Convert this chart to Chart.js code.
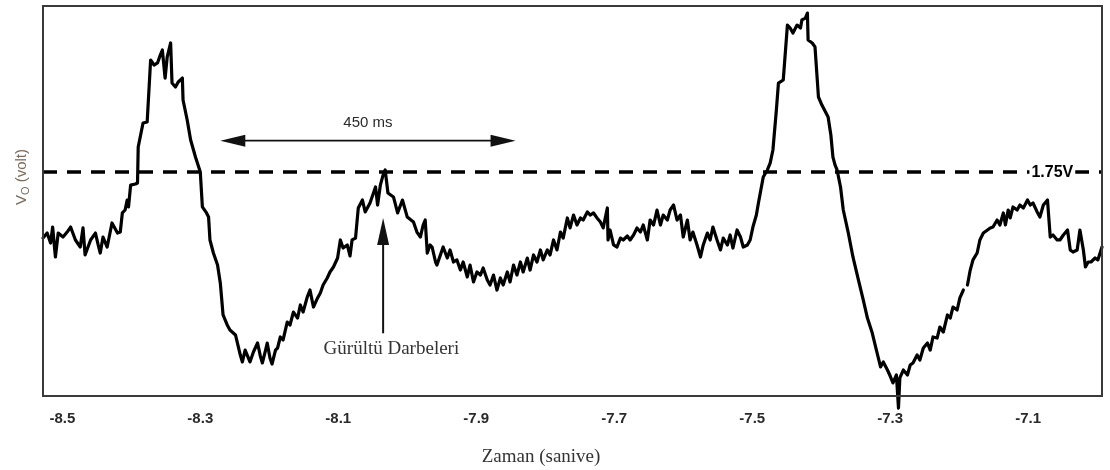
<!DOCTYPE html>
<html><head><meta charset="utf-8">
<script src="https://cdn.jsdelivr.net/npm/chart.js@4.4.1/dist/chart.umd.min.js"></script>
<style>html,body{margin:0;padding:0;background:#fff;} #wrap{width:1110px;height:470px;}</style>
</head><body><div id="wrap"><canvas id="c" width="1110" height="470"></canvas></div>
<script>
// ---- data (time in seconds, output voltage in volts) ----
const times = [
-8.528,-8.522,-8.517,-8.514,-8.510,-8.506,-8.499,-8.493,-8.488,-8.481,
-8.474,-8.470,-8.467,-8.459,-8.452,-8.448,-8.445,-8.441,-8.435,-8.428,
-8.420,-8.416,-8.413,-8.409,-8.406,-8.404,-8.401,-8.394,-8.391,-8.390,
-8.383,-8.377,-8.372,-8.367,-8.362,-8.358,-8.355,-8.351,-8.348,-8.343,
-8.341,-8.336,-8.332,-8.326,-8.325,-8.319,-8.314,-8.307,-8.300,-8.297,
-8.291,-8.288,-8.286,-8.281,-8.275,-8.271,-8.267,-8.261,-8.257,-8.249,
-8.242,-8.239,-8.235,-8.232,-8.228,-8.223,-8.217,-8.213,-8.210,-8.206,
-8.203,-8.199,-8.196,-8.191,-8.188,-8.184,-8.180,-8.174,-8.170,-8.165,
-8.159,-8.155,-8.151,-8.145,-8.141,-8.136,-8.130,-8.126,-8.122,-8.116,
-8.112,-8.107,-8.101,-8.097,-8.093,-8.087,-8.083,-8.080,-8.075,-8.071,
-8.065,-8.061,-8.054,-8.046,-8.043,-8.039,-8.035,-8.032,-8.028,-8.020,
-8.014,-8.007,-8.000,-7.991,-7.986,-7.981,-7.977,-7.974,-7.971,-7.967,
-7.964,-7.959,-7.957,-7.952,-7.948,-7.942,-7.938,-7.933,-7.928,-7.923,
-7.919,-7.913,-7.909,-7.904,-7.899,-7.894,-7.890,-7.884,-7.880,-7.875,
-7.870,-7.865,-7.861,-7.855,-7.851,-7.846,-7.841,-7.836,-7.832,-7.826,
-7.822,-7.817,-7.812,-7.807,-7.803,-7.797,-7.793,-7.788,-7.783,-7.778,
-7.774,-7.768,-7.764,-7.759,-7.754,-7.749,-7.745,-7.739,-7.735,-7.730,
-7.725,-7.720,-7.716,-7.710,-7.709,-7.706,-7.701,-7.696,-7.691,-7.687,
-7.681,-7.677,-7.672,-7.667,-7.662,-7.658,-7.652,-7.648,-7.643,-7.638,
-7.633,-7.629,-7.623,-7.619,-7.614,-7.609,-7.604,-7.600,-7.594,-7.590,
-7.586,-7.580,-7.575,-7.571,-7.565,-7.561,-7.557,-7.551,-7.546,-7.542,
-7.536,-7.532,-7.528,-7.522,-7.517,-7.513,-7.507,-7.503,-7.499,-7.494,
-7.491,-7.484,-7.478,-7.474,-7.470,-7.465,-7.462,-7.455,-7.449,-7.445,
-7.441,-7.435,-7.430,-7.428,-7.423,-7.420,-7.419,-7.413,-7.409,
-7.404,-7.399,-7.390,-7.386,-7.383,-7.380,-7.377,-7.372,-7.368,-7.361,
-7.354,-7.346,-7.339,-7.333,-7.326,-7.320,-7.314,-7.310,-7.304,-7.300,
-7.296,-7.291,-7.288,-7.286,-7.281,-7.275,-7.271,-7.267,-7.261,-7.257,
-7.252,-7.246,-7.242,-7.238,-7.232,-7.228,-7.223,-7.217,-7.213,-7.209,
-7.203,-7.199,-7.194,-7.191,-7.188,-7.184,-7.180,-7.174,-7.170,-7.165,
-7.159,-7.155,-7.151,-7.145,-7.141,-7.136,-7.133,-7.129,-7.126,-7.122,
-7.116,-7.112,-7.107,-7.101,-7.097,-7.093,-7.087,-7.083,-7.078,-7.072,
-7.068,-7.064,-7.058,-7.054,-7.049,-7.043,-7.039,-7.035,-7.029,-7.025,
-7.020,-7.017,-7.013,-7.009,-7.003,-6.999,-6.993
];
const volts = [
1.234,1.273,1.195,1.320,1.086,1.273,1.242,1.281,1.320,1.219,
1.164,1.313,1.102,1.219,1.273,1.180,1.117,1.242,1.164,1.352,
1.273,1.281,1.430,1.453,1.531,1.477,1.648,1.656,1.664,1.945,
2.133,2.141,2.625,2.586,2.602,2.664,2.703,2.484,2.648,2.758,
2.445,2.414,2.453,2.484,2.313,2.156,2.000,1.867,1.750,1.477,
1.430,1.398,1.219,1.117,1.023,0.883,0.633,0.555,0.516,0.477,
0.320,0.266,0.359,0.320,0.266,0.344,0.414,0.313,0.258,0.344,
0.414,0.297,0.250,0.359,0.375,0.461,0.438,0.578,0.555,0.656,
0.609,0.711,0.656,0.773,0.828,0.695,0.766,0.805,0.867,0.922,
0.969,1.008,1.078,1.219,1.156,1.180,1.094,1.219,1.234,1.469,
1.531,1.438,1.508,1.633,1.492,1.648,1.727,1.766,1.586,1.555,
1.430,1.531,1.398,1.359,1.281,1.242,1.336,1.375,1.117,1.180,
1.164,1.047,1.023,1.102,1.164,1.078,1.141,1.047,1.063,0.984,
1.047,0.930,1.023,0.891,0.969,0.945,1.000,0.906,0.867,0.945,
0.828,0.922,0.867,0.969,0.891,1.023,0.945,1.047,0.969,1.078,
0.984,1.102,1.047,1.141,1.063,1.141,1.102,1.219,1.141,1.281,
1.234,1.391,1.313,1.414,1.336,1.391,1.375,1.438,1.414,1.430,
1.391,1.359,1.313,1.469,1.219,1.297,1.180,1.164,1.234,1.219,
1.250,1.219,1.258,1.313,1.281,1.336,1.219,1.375,1.336,1.453,
1.336,1.414,1.375,1.453,1.492,1.375,1.414,1.242,1.375,1.219,
1.281,1.180,1.086,1.180,1.273,1.219,1.320,1.219,1.141,1.234,
1.180,1.258,1.156,1.297,1.242,1.164,1.180,1.219,1.320,1.414,
1.508,1.711,1.766,1.820,1.922,2.234,2.445,2.469,2.898,2.875,
2.836,2.898,2.875,2.938,2.953,2.992,2.781,2.758,2.727,
2.336,2.273,2.180,2.039,1.867,1.805,1.766,1.633,1.453,1.281,
1.086,0.906,0.750,0.609,0.492,0.359,0.227,0.266,0.203,0.156,
0.102,0.164,-0.094,0.141,0.203,0.164,0.242,0.258,0.320,0.281,
0.375,0.414,0.359,0.461,0.453,0.539,0.500,0.633,0.609,0.695,
0.672,0.766,0.828,null,0.867,0.984,1.063,1.117,1.219,1.273,
1.297,1.313,1.320,1.375,1.336,1.430,1.336,1.453,1.391,1.477,
1.453,1.492,1.469,1.531,1.492,1.508,1.438,1.398,1.492,1.531,
1.242,1.258,1.219,1.219,1.258,1.297,1.141,1.125,1.141,1.297,
1.141,1.008,1.047,1.047,1.078,1.063,1.164
];
const xTickValues = [-8.5, -8.3, -8.1, -7.9, -7.7, -7.5, -7.3, -7.1];
const xRange = [-8.528, -6.993];
const yRange = [0, 3.047];
const thresholdVolts = 1.75;
const thresholdLabel = '1.75V';
const thresholdLabelTime = -7.065;
const spanArrow = { from: -8.271, to: -7.843, volts: 1.995, label: '450 ms', labelTime: -8.057, labelVolts: 2.133 };
const noiseArrow = { time: -8.035, tipVolts: 1.39, tailVolts: 0.49, label: 'Gürültü Darbeleri', labelTime: -8.023, labelVolts: 0.367 };
const xTitle = 'Zaman (sanive)';
const yTitleMain = 'V', yTitleSub = 'O', yTitleRest = ' (volt)';

const points = times.map((t, i) => ({ x: t, y: volts[i] }));

function arrowHead(ctx, tipX, tipY, dirX, dirY, len, half) {
  const bx = tipX - dirX * len, by = tipY - dirY * len;
  const px = -dirY, py = dirX;
  ctx.beginPath();
  ctx.moveTo(tipX, tipY);
  ctx.lineTo(bx + px * half, by + py * half);
  ctx.lineTo(bx - px * half, by - py * half);
  ctx.closePath();
  ctx.fill();
}

const decor = {
  id: 'decor',
  beforeDatasetsDraw(chart) {
    const { ctx, chartArea: a, scales: { x, y } } = chart;
    const yy = y.getPixelForValue(thresholdVolts);
    ctx.save();
    ctx.strokeStyle = '#000';
    ctx.lineWidth = 3.5;
    ctx.setLineDash([14, 10]);
    ctx.beginPath();
    ctx.moveTo(a.left, yy);
    ctx.lineTo(a.right, yy);
    ctx.stroke();
    ctx.restore();
  },
  afterDatasetsDraw(chart) {
    const { ctx, chartArea: a, scales: { x, y } } = chart;
    ctx.save();
    // frame
    ctx.strokeStyle = '#3a3a3a';
    ctx.lineWidth = 2;
    ctx.strokeRect(a.left, a.top, a.right - a.left, a.bottom - a.top);

    // threshold label
    const ly = y.getPixelForValue(thresholdVolts);
    const lx = x.getPixelForValue(thresholdLabelTime);
    ctx.font = 'bold 16px "Liberation Sans", Arial, sans-serif';
    const w = ctx.measureText(thresholdLabel).width;
    ctx.fillStyle = '#fff';
    ctx.fillRect(lx - w / 2 - 2, ly - 9, w + 4, 18);
    ctx.fillStyle = '#000';
    ctx.textAlign = 'center';
    ctx.textBaseline = 'middle';
    ctx.fillText(thresholdLabel, lx, ly + 1);

    // 450 ms double arrow
    const ax1 = x.getPixelForValue(spanArrow.from), ax2 = x.getPixelForValue(spanArrow.to);
    const ay = y.getPixelForValue(spanArrow.volts);
    ctx.strokeStyle = '#111';
    ctx.fillStyle = '#111';
    ctx.lineWidth = 1.6;
    ctx.beginPath();
    ctx.moveTo(ax1 + 20, ay);
    ctx.lineTo(ax2 - 20, ay);
    ctx.stroke();
    arrowHead(ctx, ax1, ay, -1, 0, 25, 6);
    arrowHead(ctx, ax2, ay, 1, 0, 25, 6);
    ctx.font = '15px "Liberation Sans", Arial, sans-serif';
    ctx.fillStyle = '#2a2a2a';
    ctx.fillText(spanArrow.label, x.getPixelForValue(spanArrow.labelTime), y.getPixelForValue(spanArrow.labelVolts));

    // noise arrow
    const nx = x.getPixelForValue(noiseArrow.time);
    const nTip = y.getPixelForValue(noiseArrow.tipVolts);
    const nTail = y.getPixelForValue(noiseArrow.tailVolts);
    ctx.strokeStyle = '#111';
    ctx.fillStyle = '#111';
    ctx.lineWidth = 2;
    ctx.beginPath();
    ctx.moveTo(nx, nTail);
    ctx.lineTo(nx, nTip + 20);
    ctx.stroke();
    arrowHead(ctx, nx, nTip, 0, -1, 27, 6);
    ctx.font = '19px "Liberation Serif", "Times New Roman", serif';
    ctx.fillStyle = '#333';
    ctx.fillText(noiseArrow.label, x.getPixelForValue(noiseArrow.labelTime), y.getPixelForValue(noiseArrow.labelVolts));

    // x title
    ctx.font = '19px "Liberation Serif", "Times New Roman", serif';
    ctx.fillStyle = '#333';
    ctx.fillText(xTitle, 541, 457);

    // y title with subscript
    ctx.translate(21, 177);
    ctx.rotate(-Math.PI / 2);
    const fMain = '15px "Liberation Sans", Arial, sans-serif';
    const fSub = '11px "Liberation Sans", Arial, sans-serif';
    ctx.font = fMain;
    const w1 = ctx.measureText(yTitleMain).width;
    const w3 = ctx.measureText(yTitleRest).width;
    ctx.font = fSub;
    const w2 = ctx.measureText(yTitleSub).width;
    let sx = -(w1 + w2 + w3) / 2;
    ctx.fillStyle = '#7a6b5d';
    ctx.textAlign = 'left';
    ctx.textBaseline = 'alphabetic';
    ctx.font = fMain;
    ctx.fillText(yTitleMain, sx, 5);
    sx += w1;
    ctx.font = fSub;
    ctx.fillText(yTitleSub, sx, 8);
    sx += w2;
    ctx.font = fMain;
    ctx.fillText(yTitleRest, sx, 5);
    ctx.restore();
  }
};

new Chart(document.getElementById('c'), {
  type: 'line',
  data: {
    datasets: [{
      data: points,
      borderColor: '#000',
      borderWidth: 3.2,
      pointRadius: 0,
      tension: 0,
      spanGaps: false,
      clip: false,
      borderJoinStyle: 'round',
      borderCapStyle: 'round'
    }]
  },
  options: {
    responsive: false,
    animation: false,
    devicePixelRatio: 1,
    layout: { padding: { left: 43, right: 8, top: 6, bottom: 0 } },
    plugins: { legend: { display: false }, tooltip: { enabled: false } },
    scales: {
      x: {
        type: 'linear',
        min: xRange[0],
        max: xRange[1],
        grid: { display: false, drawTicks: false },
        border: { display: false },
        afterBuildTicks: (s) => { s.ticks = xTickValues.map(v => ({ value: v })); },
        afterFit: (s) => { s.height = 74; },
        ticks: {
          padding: 14,
          autoSkip: false,
          maxRotation: 0,
          color: '#2a2a2a',
          font: { family: '"Liberation Sans", Arial, sans-serif', size: 15, weight: 'bold' },
          callback: (v) => Number(v).toFixed(1)
        }
      },
      y: {
        type: 'linear',
        display: false,
        min: yRange[0],
        max: yRange[1]
      }
    }
  },
  plugins: [decor]
});
</script>
</body></html>
